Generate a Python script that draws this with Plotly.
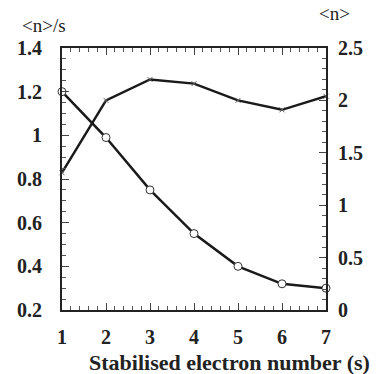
import plotly.graph_objects as go

s_values = [1, 2, 3, 4, 5, 6, 7]
n_per_s = [1.20, 0.99, 0.75, 0.55, 0.40, 0.32, 0.30]
n_mean = [1.31, 2.00, 2.20, 2.16, 2.00, 1.91, 2.04]
x_ticks = [1, 2, 3, 4, 5, 6, 7]
left_ticks = [0.2, 0.4, 0.6, 0.8, 1.0, 1.2, 1.4]
left_labels = ["0.2", "0.4", "0.6", "0.8", "1", "1.2", "1.4"]
right_ticks = [0, 0.5, 1, 1.5, 2, 2.5]
right_labels = ["0", "0.5", "1", "1.5", "2", "2.5"]

font_family = "Liberation Serif"

fig = go.Figure()
fig.add_trace(go.Scatter(
    x=s_values, y=n_per_s, mode="lines+markers",
    line=dict(color="#1a1a1a", width=2.5),
    marker=dict(symbol="circle", size=8, color="white", line=dict(color="#333", width=1)),
    yaxis="y", showlegend=False, cliponaxis=False))
fig.add_trace(go.Scatter(
    x=s_values, y=n_mean, mode="lines+markers",
    line=dict(color="#1a1a1a", width=2.5),
    marker=dict(symbol="x-thin", size=5, color="#444", line=dict(color="#666", width=1)),
    yaxis="y2", showlegend=False, cliponaxis=False))

tickfont = dict(family=font_family, size=20, color="#222")

def bold(labels):
    return ["<b>" + t + "</b>" for t in labels]

fig.update_layout(
    width=387, height=374,
    margin=dict(l=62, r=61, t=48, b=64),
    paper_bgcolor="white", plot_bgcolor="white",
    font=dict(family=font_family, color="#222"),
    xaxis=dict(range=[1, 7], tickvals=x_ticks, ticktext=bold([str(v) for v in x_ticks]),
               ticks="inside", ticklen=7, tickwidth=1, tickcolor="#444",
               showline=True, linecolor="#222", linewidth=2, mirror="ticks",
               showgrid=False, zeroline=False, ticklabelstandoff=8,
               minor=dict(ticks="inside", ticklen=4, dtick=0.2, tickcolor="#555", showgrid=False),
               tickfont=tickfont),
    yaxis=dict(range=[0.2, 1.4], tickvals=left_ticks, ticktext=bold(left_labels),
               ticks="inside", ticklen=7, tickwidth=1, tickcolor="#444",
               showline=True, linecolor="#222", linewidth=2,
               showgrid=False, zeroline=False, ticklabelstandoff=14,
               minor=dict(ticks="inside", ticklen=4, dtick=0.05, tickcolor="#555", showgrid=False),
               tickfont=tickfont),
    yaxis2=dict(range=[0, 2.5], tickvals=right_ticks, ticktext=bold(right_labels),
                overlaying="y", side="right",
                ticks="inside", ticklen=7, tickwidth=1, tickcolor="#444",
                showline=True, linecolor="#222", linewidth=2,
                showgrid=False, zeroline=False, ticklabelstandoff=6,
                minor=dict(ticks="inside", ticklen=4, dtick=0.1, tickcolor="#555", showgrid=False),
                tickfont=tickfont),
)

fig.add_annotation(text="&lt;n&gt;/s", xref="paper", yref="paper", x=0, y=1.0,
                   xanchor="center", yanchor="middle", xshift=-18, yshift=23, showarrow=False,
                   font=dict(family=font_family, size=19, color="#222"))
fig.add_annotation(text="&lt;n&gt;", xref="paper", yref="paper", x=1.0, y=1.0,
                   xanchor="center", yanchor="middle", xshift=8, yshift=35, showarrow=False,
                   font=dict(family=font_family, size=19, color="#222"))
fig.add_annotation(text="<b>Stabilised electron number (s)</b>", xref="paper", yref="paper",
                   x=0.5, y=0, xanchor="center", yanchor="middle", xshift=35, yshift=-52,
                   showarrow=False, font=dict(family=font_family, size=22, color="#222"))

fig.write_html("out.html", config={"displayModeBar": False},
               post_script="document.body.style.margin='0';document.body.style.overflow='hidden';")
